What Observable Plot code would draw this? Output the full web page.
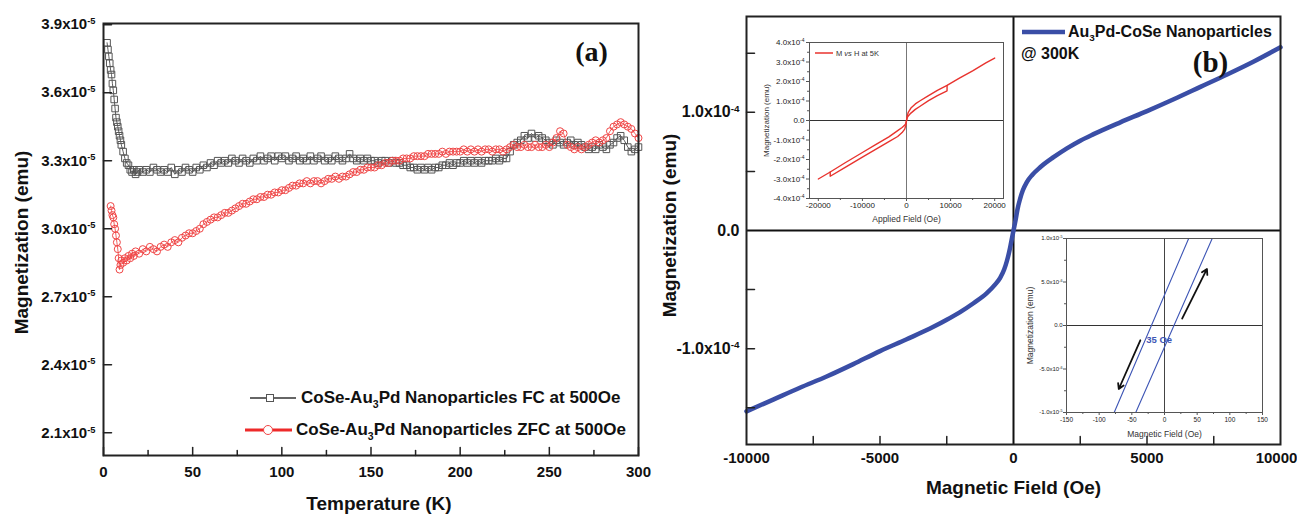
<!DOCTYPE html>
<html><head><meta charset="utf-8">
<script src="https://cdn.jsdelivr.net/npm/d3@7"></script>
<script src="https://cdn.jsdelivr.net/npm/@observablehq/plot@0.6"></script>
<style>
body{margin:0;background:#fff;}
#root{position:relative;width:1297px;height:515px;overflow:hidden;background:#fff;font-family:"Liberation Sans",Arial,sans-serif;}
.leg{position:absolute;display:flex;align-items:center;font-weight:bold;white-space:nowrap;color:#111;}
.leg svg{display:block;}
.leg sub{font-size:0.62em;vertical-align:-0.45em;line-height:0;}
</style></head><body><div id="root"></div>
<script>
// ---------- Panel (a): FC / ZFC magnetization vs temperature (units 1e-5 emu) ----------
const fcT = [2,2.5,3,3.5,4,4.5,5,5.5,6,6.5,7,7.5,8,8.5,9,9.5,10,11,12,13,14,15,16,17,18,19,
20,22,24,26,28,30,32,34,36,38,40,42,44,46,48,50,52,54,56,58,
60,62,64,66,68,70,72,74,76,78,80,82,84,86,88,90,92,94,96,98,
100,102,104,106,108,110,112,114,116,118,120,122,124,126,128,130,132,134,136,138,
140,142,144,146,148,150,152,154,156,158,160,162,164,166,168,170,172,174,176,178,
180,182,184,186,188,190,192,194,196,198,200,202,204,206,208,210,212,214,216,218,
220,222,224,226,228,230,232,234,236,238,240,242,244,246,248,250,252,254,256,258,
260,262,264,266,268,270,272,274,276,278,280,282,284,286,288,290,292,294,296,298,300];
const fcM = [3.82,3.79,3.76,3.73,3.70,3.68,3.64,3.61,3.57,3.53,3.49,3.47,3.45,3.43,3.41,3.39,3.37,3.34,3.31,3.29,3.28,3.26,3.25,3.26,3.24,3.25,
3.26,3.25,3.26,3.25,3.27,3.26,3.25,3.26,3.25,3.27,3.24,3.26,3.25,3.27,3.26,3.25,3.27,3.26,3.28,3.27,
3.29,3.28,3.30,3.29,3.30,3.29,3.31,3.30,3.29,3.31,3.30,3.29,3.31,3.30,3.32,3.30,3.31,3.32,3.30,3.32,
3.31,3.32,3.30,3.31,3.32,3.30,3.31,3.30,3.32,3.30,3.31,3.32,3.30,3.31,3.30,3.32,3.31,3.30,3.31,3.33,
3.31,3.30,3.31,3.30,3.31,3.30,3.30,3.29,3.30,3.30,3.29,3.30,3.29,3.29,3.28,3.28,3.27,3.27,3.26,3.27,
3.26,3.27,3.26,3.27,3.27,3.28,3.28,3.29,3.28,3.29,3.29,3.30,3.29,3.30,3.29,3.30,3.29,3.30,3.30,3.30,
3.31,3.30,3.31,3.31,3.34,3.37,3.38,3.39,3.41,3.40,3.42,3.40,3.41,3.40,3.39,3.38,3.37,3.39,3.38,3.37,
3.38,3.39,3.37,3.38,3.37,3.36,3.35,3.36,3.35,3.37,3.36,3.35,3.37,3.38,3.40,3.41,3.39,3.36,3.34,3.35,3.36];
const zfcT = [4,4.5,5,5.5,6,6.5,7,7.5,8,8.5,9,9.5,10,11,12,13,14,15,16,17,18,
20,22,24,26,28,30,32,34,36,38,40,42,44,46,48,50,52,54,56,58,
60,62,64,66,68,70,72,74,76,78,80,82,84,86,88,90,92,94,96,98,
100,102,104,106,108,110,112,114,116,118,120,122,124,126,128,130,132,134,136,138,
140,142,144,146,148,150,152,154,156,158,160,162,164,166,168,170,172,174,176,178,
180,182,184,186,188,190,192,194,196,198,200,202,204,206,208,210,212,214,216,218,
220,222,224,226,228,230,232,234,236,238,240,242,244,246,248,250,252,254,256,258,
260,262,264,266,268,270,272,274,276,278,280,282,284,286,288,290,292,294,296,298,300];
const zfcM = [3.10,3.08,3.06,3.05,3.02,3.00,2.97,2.94,2.91,2.87,2.82,2.84,2.86,2.85,2.87,2.86,2.88,2.87,2.89,2.88,2.90,
2.89,2.91,2.90,2.92,2.91,2.90,2.92,2.93,2.92,2.94,2.95,2.94,2.96,2.97,2.98,2.98,2.99,3.00,3.02,3.03,
3.04,3.05,3.05,3.06,3.07,3.07,3.08,3.09,3.10,3.11,3.11,3.12,3.13,3.13,3.14,3.14,3.15,3.15,3.16,3.16,
3.17,3.17,3.18,3.19,3.19,3.20,3.20,3.21,3.20,3.21,3.21,3.20,3.21,3.22,3.22,3.23,3.22,3.23,3.23,3.24,
3.25,3.25,3.26,3.26,3.27,3.27,3.27,3.28,3.28,3.29,3.29,3.30,3.30,3.30,3.31,3.31,3.31,3.32,3.32,3.32,
3.32,3.33,3.33,3.33,3.33,3.34,3.33,3.34,3.34,3.34,3.34,3.35,3.34,3.35,3.34,3.35,3.34,3.35,3.35,3.34,
3.35,3.35,3.34,3.35,3.36,3.37,3.36,3.36,3.37,3.36,3.36,3.37,3.36,3.36,3.37,3.36,3.38,3.40,3.43,3.42,
3.37,3.36,3.35,3.36,3.35,3.36,3.37,3.38,3.39,3.38,3.39,3.40,3.43,3.45,3.46,3.47,3.46,3.45,3.44,3.42,3.40];
const aYTicks = [2.1, 2.4, 2.7, 3.0, 3.3, 3.6, 3.9];
const aXTicks = [0, 50, 100, 150, 200, 250, 300];
const aXMinor = [25, 75, 125, 175, 225, 275];

// ---------- Panel (b): M vs H at 300 K (units 1e-4 emu) ----------
const bH = [-10000,-9000,-8000,-7000,-6000,-5000,-4000,-3000,-2500,-2000,-1500,-1000,-700,-500,-350,-250,-150,-80,0,80,150,250,350,500,700,1000,1500,2000,2500,3000,4000,5000,6000,7000,8000,9000,10000];
const bM = [-1.53,-1.43,-1.33,-1.235,-1.13,-1.02,-0.92,-0.815,-0.755,-0.69,-0.615,-0.53,-0.46,-0.40,-0.33,-0.26,-0.17,-0.09,0,0.09,0.18,0.27,0.34,0.41,0.47,0.535,0.62,0.695,0.76,0.815,0.915,1.01,1.11,1.215,1.32,1.43,1.55];
const bYLabeled = [-1, 0, 1];
const bYTickMarks = [-1.5, -1, -0.5, 0.5, 1, 1.5];
const bXTicks = [-10000, -5000, 0, 5000];
const bXLastTick = [10000];
const bXTickMarks = [-7500, -5000, -2500, 2500, 5000, 7500];

// ---------- Inset 1: M vs H at 5K (units 1e-4 emu) ----------
const upH = [-20000,-17300,-14000,-10000,-7000,-4000,-2000,-1000,-500,-200,0,150,400,1000,2000,3000,5000,7000,9200,12000,15000,18000,20000];
const upM = [-3.00,-2.64,-2.18,-1.64,-1.24,-0.84,-0.52,-0.36,-0.26,-0.17,-0.02,0.22,0.42,0.64,0.85,1.0,1.28,1.55,1.80,2.17,2.55,2.95,3.20];
const loH = [-17300,-17300,-14000,-10000,-7000,-4000,-2000,-1000,-400,-150,0,200,500,1000,2000,3000,5000,7000,9200,9200];
const loM = [-2.64,-2.86,-2.42,-1.88,-1.48,-1.08,-0.82,-0.62,-0.44,-0.24,0.0,0.16,0.26,0.38,0.57,0.72,1.02,1.27,1.52,1.80];
const i1YTicks = [-4, -3, -2, -1, 0, 1, 2, 3, 4];
const i1YMinor = [-3.5, -2.5, -1.5, -0.5, 0.5, 1.5, 2.5, 3.5];
const i1XTicks = [-20000, -10000, 0, 10000, 20000];
const i1XMinor = [-15000, -5000, 5000, 15000];

// ---------- Inset 2: low-field loop (units 1e-5 emu) ----------
const br1H = [-77, 37], br1M = [-1, 1];
const br2H = [-44, 73], br2M = [-1, 1];
const arrX1 = [27, -37], arrY1 = [0.08, -0.17], arrX2 = [65, -70], arrY2 = [0.65, -0.73];
const coercive = ["35 Oe"], coerciveH = [-28], coerciveM = [-0.17];
const i2YTicks = [-1, -0.5, 0, 0.5, 1];
const i2YLabels = ["-1.0x10^-5", "-5.0x10^-6", "0.0", "5.0x10^-6", "1.0x10^-5"];
const i2YMinor = [-0.75, -0.25, 0.25, 0.75];
const i2XTicks = [-150, -100, -50, 0, 50, 100, 150];
const i2XMinor = [-125, -75, -25, 25, 75, 125];

// ---------- helpers ----------
const root = document.getElementById("root");
const SANS = "'Liberation Sans', Arial, sans-serif";
const SERIF = "'Liberation Serif', 'Times New Roman', serif";
function supify(svg) {
  d3.select(svg).selectAll("text").each(function () {
    const t = this.textContent;
    if (t.includes("^")) {
      const [base, exp] = t.split("^");
      const el = d3.select(this);
      el.text(base);
      el.append("tspan").attr("dy", "-0.55em").attr("font-size", "0.62em").text(exp);
    }
  });
}
function place(svg, left, top) {
  supify(svg);
  svg.style.position = "absolute";
  svg.style.left = left + "px";
  svg.style.top = top + "px";
  svg.style.maxWidth = "none";
  svg.style.overflow = "visible";
  svg.style.background = "transparent";
  root.appendChild(svg);
}
const zip = (xs, ys, kx, ky) => xs.map((x, i) => ({[kx]: x, [ky]: ys[i]}));
const fc = zip(fcT, fcM, "T", "M");
const zfc = zip(zfcT, zfcM, "T", "M");
const bData = zip(bH, bM, "H", "M");
const up = zip(upH, upM, "H", "M");
const lo = zip(loH, loM, "H", "M");
const br1 = zip(br1H, br1M, "H", "M");
const br2 = zip(br2H, br2M, "H", "M");
const arrows = arrX1.map((x, i) => ({x1: x, y1: arrY1[i], x2: arrX2[i], y2: arrY2[i]}));
const ann = coercive.map((t, i) => ({t, H: coerciveH[i], M: coerciveM[i]}));
const blank = () => "";
// inward ticks drawn as vectors anchored on the frame edge
const tickShape = {draw(context, l) { context.moveTo(0, 0); context.lineTo(0, -l); }};
const inTicksX = (ticks, size) => Plot.vector(ticks, {x: d => d, frameAnchor: "bottom", rotate: 0, length: size, anchor: "start", shape: tickShape, stroke: "#222", strokeWidth: 1.5});
const inTicksY = (ticks, size) => Plot.vector(ticks, {y: d => d, frameAnchor: "left", rotate: 90, length: size, anchor: "start", shape: tickShape, stroke: "#222", strokeWidth: 1.5});

// ---------- Panel (a) ----------
const plotA = Plot.plot({
  width: 650, height: 515, marginLeft: 103, marginRight: 12, marginTop: 23, marginBottom: 60,
  style: {fontFamily: SANS, background: "transparent", color: "#111"},
  x: {domain: [0, 300]}, y: {domain: [2.0, 3.905]},
  marks: [
    Plot.line(fc, {x: "T", y: "M", stroke: "#333", strokeWidth: 0.8}),
    Plot.dot(fc, {x: "T", y: "M", symbol: "square", r: 3.7, stroke: "#555", strokeWidth: 1, fill: "none"}),
    Plot.line(zfc, {x: "T", y: "M", stroke: "#ee3a3a", strokeWidth: 0.8}),
    Plot.dot(zfc, {x: "T", y: "M", symbol: "circle", r: 3.5, stroke: "#f04646", strokeWidth: 1, fill: "none"}),
    Plot.frame({stroke: "#222", strokeWidth: 2}),
    Plot.axisY(aYTicks, {tickSize: 0, tickPadding: 8, tickFormat: d => d.toFixed(1) + "x10^-5", fontSize: 15, fontWeight: "bold", label: null}),
    inTicksY(aYTicks, 8),
    Plot.axisX(aXTicks, {tickSize: 0, tickPadding: 11, tickFormat: d => String(d), fontSize: 15, fontWeight: "bold", label: null}),
    inTicksX(aXTicks, 8),
    inTicksX(aXMinor, 5),
    Plot.text(["(a)"], {text: d => d, frameAnchor: "top-right", dx: -47, dy: 29, fontFamily: SERIF, fontWeight: "bold", fontSize: 28, textAnchor: "middle", lineAnchor: "middle"}),
    Plot.text(["Temperature (K)"], {text: d => d, frameAnchor: "bottom", dx: 8, dy: 48, fontSize: 19, fontWeight: "bold", textAnchor: "middle", lineAnchor: "middle"}),
    Plot.text(["Magnetization (emu)"], {text: d => d, frameAnchor: "left", dx: -82, dy: 3, rotate: -90, fontSize: 19, fontWeight: "bold", textAnchor: "middle", lineAnchor: "middle"})
  ]
});
place(plotA, 0, 0);

// ---------- Panel (b) ----------
const plotB = Plot.plot({
  width: 647, height: 515, marginLeft: 96, marginRight: 17, marginTop: 16, marginBottom: 71,
  style: {fontFamily: SANS, background: "transparent", color: "#111"},
  x: {domain: [-10000, 10000]}, y: {domain: [-1.81, 1.81]},
  marks: [
    Plot.ruleY([0], {stroke: "#111", strokeWidth: 2}),
    Plot.ruleX([0], {stroke: "#111", strokeWidth: 2}),
    Plot.line(bData, {x: "H", y: "M", stroke: "#3a4ea6", strokeWidth: 4.5, curve: "monotone-x"}),
    Plot.frame({stroke: "#222", strokeWidth: 2}),
    Plot.axisY(bYLabeled, {tickSize: 0, tickPadding: 7, tickFormat: d => d === 0 ? "0.0" : d.toFixed(1) + "x10^-4", fontSize: 16, fontWeight: "bold", label: null}),
    inTicksY(bYTickMarks, 8),
    Plot.axisX(bXTicks, {tickSize: 0, tickPadding: 8, tickFormat: d => String(d), fontSize: 15, fontWeight: "bold", label: null}),
    Plot.axisX(bXLastTick, {tickSize: 0, tickPadding: 8, dx: -4, tickFormat: d => String(d), fontSize: 15, fontWeight: "bold", label: null}),
    inTicksX(bXTickMarks, 8),
    Plot.text(["(b)"], {text: d => d, frameAnchor: "top-right", dx: -70, dy: 46, fontFamily: SERIF, fontWeight: "bold", fontSize: 29, textAnchor: "middle", lineAnchor: "middle"}),
    Plot.text(["Magnetic Field (Oe)"], {text: d => d, frameAnchor: "bottom", dy: 43, fontSize: 19, fontWeight: "bold", textAnchor: "middle", lineAnchor: "middle"}),
    Plot.text(["Magnetization (emu)"], {text: d => d, frameAnchor: "left", dx: -77, dy: -5, rotate: -90, fontSize: 19, fontWeight: "bold", textAnchor: "middle", lineAnchor: "middle"})
  ]
});
place(plotB, 650, 0);

// ---------- Inset 1 ----------
const fmt1 = d => d === 0 ? "0.0" : d.toFixed(1) + "x10^-4";
const plotI1 = Plot.plot({
  width: 280, height: 200, marginLeft: 69, marginRight: 17, marginTop: 12, marginBottom: 32,
  style: {fontFamily: SANS, background: "transparent", color: "#222"},
  x: {domain: [-22000, 22000]}, y: {domain: [-4, 4]},
  marks: [
    Plot.ruleX([0], {stroke: "#777", strokeWidth: 1}),
    Plot.ruleY([0], {stroke: "#333", strokeWidth: 1}),
    Plot.line(up, {x: "H", y: "M", stroke: "#e8332e", strokeWidth: 1.4}),
    Plot.line(lo, {x: "H", y: "M", stroke: "#e8332e", strokeWidth: 1.4}),
    Plot.frame({stroke: "#555", strokeWidth: 1}),
    Plot.axisY(i1YTicks, {tickSize: 3, tickPadding: 2, tickFormat: fmt1, fontSize: 8, label: null, stroke: "#555"}),
    Plot.axisY(i1YMinor, {tickSize: 2, tickPadding: 0, tickFormat: blank, label: null, stroke: "#555"}),
    Plot.axisX(i1XTicks, {tickSize: 3, tickPadding: 1, tickFormat: d => String(d), fontSize: 8, label: null, stroke: "#555"}),
    Plot.axisX(i1XMinor, {tickSize: 2, tickPadding: 0, tickFormat: blank, label: null, stroke: "#555"}),
    Plot.text(["Applied Field (Oe)"], {text: d => d, frameAnchor: "bottom", dy: 21, fontSize: 8.5, textAnchor: "middle", lineAnchor: "middle", fill: "#333"}),
    Plot.text(["Magnetization (emu)"], {text: d => d, frameAnchor: "left", dx: -43, rotate: -90, fontSize: 8, textAnchor: "middle", lineAnchor: "middle", fill: "#333"})
  ]
});
place(plotI1, 740, 30);

// ---------- Inset 2 ----------
const lab2 = new Map(i2YTicks.map((d, i) => [d, i2YLabels[i]]));
const plotI2 = Plot.plot({
  width: 290, height: 220, marginLeft: 66, marginRight: 28, marginTop: 10, marginBottom: 36,
  style: {fontFamily: SANS, background: "transparent", color: "#222"},
  x: {domain: [-150, 150]}, y: {domain: [-1, 1]},
  marks: [
    Plot.ruleX([0], {stroke: "#444", strokeWidth: 1}),
    Plot.ruleY([0], {stroke: "#333", strokeWidth: 1}),
    Plot.line(br1, {x: "H", y: "M", stroke: "#3d55b5", strokeWidth: 1.1}),
    Plot.line(br2, {x: "H", y: "M", stroke: "#3d55b5", strokeWidth: 1.1}),
    Plot.arrow(arrows, {x1: "x1", y1: "y1", x2: "x2", y2: "y2", stroke: "#111", strokeWidth: 1.8, headLength: 5}),
    Plot.text(ann, {x: "H", y: "M", text: "t", fill: "#3d55b5", fontWeight: "bold", fontSize: 9.5, textAnchor: "start", lineAnchor: "middle"}),
    Plot.frame({stroke: "#555", strokeWidth: 1}),
    Plot.axisY(i2YTicks, {tickSize: 3, tickPadding: 1, tickFormat: d => lab2.get(d), fontSize: 6, label: null, stroke: "#555"}),
    Plot.axisY(i2YMinor, {tickSize: 2, tickPadding: 0, tickFormat: blank, label: null, stroke: "#555"}),
    Plot.axisX(i2XTicks, {tickSize: 3, tickPadding: 2, tickFormat: d => String(d), fontSize: 6.5, label: null, stroke: "#555"}),
    Plot.axisX(i2XMinor, {tickSize: 2, tickPadding: 0, tickFormat: blank, label: null, stroke: "#555"}),
    Plot.text(["Magnetic Field (Oe)"], {text: d => d, frameAnchor: "bottom", dy: 22, fontSize: 8.5, textAnchor: "middle", lineAnchor: "middle", fill: "#333"}),
    Plot.text(["Magnetization (emu)"], {text: d => d, frameAnchor: "left", dx: -36, rotate: -90, fontSize: 8.5, textAnchor: "middle", lineAnchor: "middle", fill: "#333"})
  ]
});
place(plotI2, 1000, 228);

// ---------- Legends ----------
function legend(left, top, h, swatch, html, fs, weight, color) {
  const div = document.createElement("div");
  div.className = "leg";
  div.style.left = left + "px"; div.style.top = top + "px"; div.style.height = h + "px";
  div.style.fontSize = fs + "px";
  if (weight) div.style.fontWeight = weight;
  if (color) div.style.color = color;
  div.innerHTML = swatch + `<span>${html}</span>`;
  root.appendChild(div);
}
legend(248, 386, 24,
  `<svg width="53" height="24"><line x1="2" x2="48" y1="12" y2="12" stroke="#333" stroke-width="1.5"/><rect x="18.5" y="8.5" width="7" height="7" fill="#fff" stroke="#555" stroke-width="1"/></svg>`,
  "CoSe-Au<sub>3</sub>Pd Nanoparticles FC at 500Oe", 17);
legend(243, 418, 24,
  `<svg width="53" height="24"><line x1="2" x2="49" y1="12" y2="12" stroke="#ee2a2a" stroke-width="3"/><circle cx="25" cy="12" r="4.5" fill="#fff" stroke="#f04646" stroke-width="1"/></svg>`,
  "CoSe-Au<sub>3</sub>Pd Nanoparticles ZFC at 500Oe", 17);
legend(1020, 20, 24,
  `<svg width="48" height="24"><line x1="2" x2="45" y1="12" y2="12" stroke="#3a4ea6" stroke-width="4.5"/></svg>`,
  "Au<sub>3</sub>Pd-CoSe Nanoparticles", 16);
legend(1021, 43, 22, "", "@ 300K", 16);
legend(814, 47, 12,
  `<svg width="22" height="12"><line x1="1" x2="19" y1="6" y2="6" stroke="#e8332e" stroke-width="1.5"/></svg>`,
  "M <i>vs</i> H at 5K", 7.5, "normal", "#333");
</script></body></html>
